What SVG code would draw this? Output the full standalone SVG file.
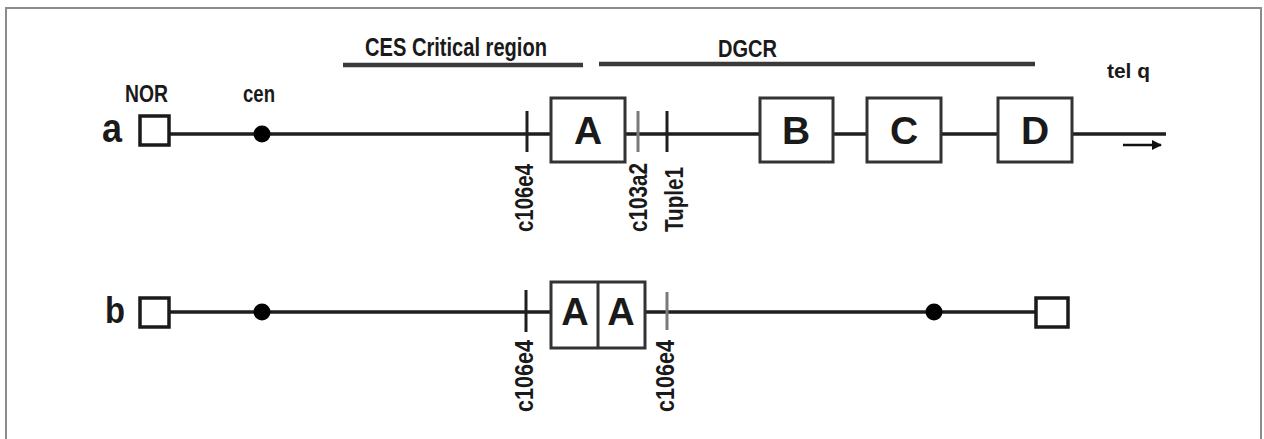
<svg xmlns="http://www.w3.org/2000/svg" width="1264" height="439" viewBox="0 0 1264 439">
  <defs>
    <style>
      .frame { fill: #ffffff; stroke: #8c8c8c; stroke-width: 2; }
      .chrom { stroke: #1e1e1e; stroke-width: 3.5; fill: none; }
      .bar { stroke: #3a3a3a; stroke-width: 4.5; fill: none; }
      .tick { stroke: #1e1e1e; stroke-width: 3; }
      .tick-g { stroke: #7a7a7a; stroke-width: 3; }
      .box { fill: #ffffff; stroke: #333333; stroke-width: 3; }
      .end { fill: #ffffff; stroke: #1a1a1a; stroke-width: 3.5; }
      .dot { fill: #000000; }
      text { font-family: "Liberation Sans", Arial, sans-serif; font-weight: bold; fill: #1a1a1a; }
      .mk { font-size: 25px; }
      .big { font-size: 39px; text-anchor: middle; }
    </style>
    <marker id="arr" viewBox="0 0 10 10" refX="9" refY="5" markerWidth="4" markerHeight="4" orient="auto">
      <path d="M0,0 L10,5 L0,10 z" fill="#111111"/>
    </marker>
  </defs>

  <!-- outer frame -->
  <rect class="frame" x="6" y="8" width="1255" height="440"/>

  <!-- region labels and bars -->
  <g id="ces-region">
    <text x="365" y="56" style="font-size:26px" textLength="182" lengthAdjust="spacingAndGlyphs">CES Critical region</text>
    <line class="bar" x1="343" y1="65" x2="583" y2="65"/>
  </g>
  <g id="dgcr-region">
    <text x="718" y="57" style="font-size:24px" textLength="59" lengthAdjust="spacingAndGlyphs">DGCR</text>
    <line class="bar" x1="599" y1="64" x2="1035" y2="64"/>
  </g>

  <!-- chromosome backbones -->
  <g id="connectors">
    <line class="chrom" x1="169" y1="134" x2="1166" y2="134"/>
    <line x1="1123" y1="145" x2="1161" y2="145" stroke="#111111" stroke-width="2.5" marker-end="url(#arr)"/>
    <line class="chrom" x1="169" y1="312" x2="1035" y2="312"/>
  </g>

  <!-- row a -->
  <g id="row-a">
    <text x="102" y="142" style="font-size:40px" textLength="20" lengthAdjust="spacingAndGlyphs">a</text>
    <text x="125" y="102" style="font-size:23px" textLength="43" lengthAdjust="spacingAndGlyphs">NOR</text>
    <text x="243" y="102" style="font-size:23px" textLength="32" lengthAdjust="spacingAndGlyphs">cen</text>
    <text x="1107" y="78" style="font-size:21px" textLength="43" lengthAdjust="spacingAndGlyphs">tel q</text>
  </g>
  <g id="nor-a"><rect class="end" x="140" y="116" width="29" height="29"/></g>
  <g id="cen-a"><circle class="dot" cx="262" cy="134" r="8.5"/></g>
  <g id="c106e4-a">
    <line class="tick" x1="527" y1="111" x2="527" y2="152"/>
    <text class="mk" transform="translate(533,232) rotate(-90)" textLength="68" lengthAdjust="spacingAndGlyphs">c106e4</text>
  </g>
  <g id="box-A">
    <rect class="box" x="551" y="98" width="74" height="64"/>
    <text class="big" x="588" y="144">A</text>
  </g>
  <g id="c103a2-a">
    <line class="tick-g" x1="638" y1="111" x2="638" y2="152"/>
    <text class="mk" transform="translate(647,232) rotate(-90)" textLength="69" lengthAdjust="spacingAndGlyphs">c103a2</text>
  </g>
  <g id="tuple1-a">
    <line class="tick" x1="667" y1="111" x2="667" y2="152"/>
    <text class="mk" transform="translate(683,232) rotate(-90)" textLength="65" lengthAdjust="spacingAndGlyphs">Tuple1</text>
  </g>
  <g id="box-B">
    <rect class="box" x="760" y="98" width="73" height="64"/>
    <text class="big" x="796" y="144">B</text>
  </g>
  <g id="box-C">
    <rect class="box" x="867" y="98" width="74" height="64"/>
    <text class="big" x="904" y="144">C</text>
  </g>
  <g id="box-D">
    <rect class="box" x="998" y="98" width="74" height="64"/>
    <text class="big" x="1035" y="144">D</text>
  </g>

  <!-- row b -->
  <g id="row-b">
    <text x="105" y="323" style="font-size:36px" textLength="20" lengthAdjust="spacingAndGlyphs">b</text>
  </g>
  <g id="nor-b"><rect class="end" x="140" y="298" width="29" height="29"/></g>
  <g id="cen-b"><circle class="dot" cx="262" cy="312" r="8.5"/></g>
  <g id="c106e4-b1">
    <line class="tick" x1="526" y1="290" x2="526" y2="332"/>
    <text class="mk" transform="translate(533,412) rotate(-90)" textLength="72" lengthAdjust="spacingAndGlyphs">c106e4</text>
  </g>
  <g id="box-AA">
    <rect class="box" x="551" y="282" width="94" height="66"/>
    <line x1="598" y1="282" x2="598" y2="348" stroke="#333333" stroke-width="3"/>
    <text class="big" x="575" y="325" style="font-size:38px">A</text>
    <text class="big" x="621" y="325" style="font-size:38px">A</text>
  </g>
  <g id="c106e4-b2">
    <line class="tick-g" x1="667" y1="292" x2="667" y2="330"/>
    <text class="mk" transform="translate(674,412) rotate(-90)" textLength="72" lengthAdjust="spacingAndGlyphs">c106e4</text>
  </g>
  <g id="cen-b2"><circle class="dot" cx="934" cy="312" r="8.5"/></g>
  <g id="end-b"><rect class="end" x="1036" y="298" width="32" height="29"/></g>
</svg>
